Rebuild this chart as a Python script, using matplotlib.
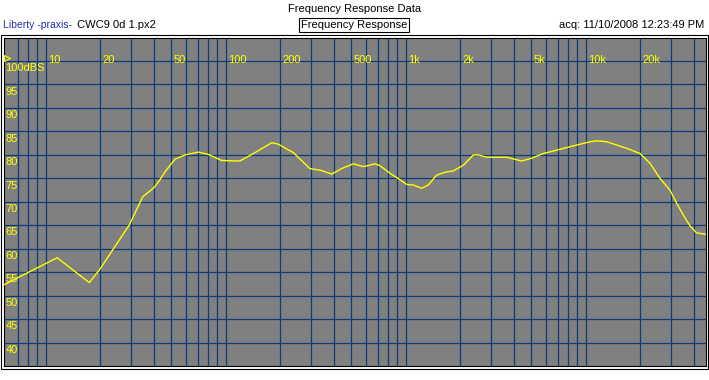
"""Frequency response plot (Liberty -praxis- style), CWC9 0d 1.px2."""
import matplotlib as mpl
mpl.use("Agg")
import matplotlib.pyplot as plt
import matplotlib.transforms as mtransforms
from matplotlib.patches import Rectangle

mpl.rcParams["font.family"] = ["Liberation Sans", "DejaVu Sans"]

freq = [5.84, 11.6, 17.5, 20, 29.2, 34.7, 40, 43.2, 46.1, 52.4, 59.6, 70.6, 80.3,
        95.3, 120, 146, 180.6, 196, 238, 294, 340, 389, 442, 513, 583, 677, 721,
        820, 932, 1016, 1100, 1230, 1339, 1490, 1657, 1843, 2094, 2381, 2535,
        2825, 3648, 4422, 5024, 5832, 7211, 8930, 10590, 11540, 13120, 16930,
        20090, 22820, 25920, 29460, 32100, 34920, 38050, 41410, 46400]
spl = [52.3, 58.1, 52.8, 55.6, 65.1, 71.1, 73.0, 74.7, 76.4, 79.1, 80.0, 80.6, 80.1,
       78.8, 78.7, 80.5, 82.6, 82.3, 80.5, 77.1, 76.7, 75.9, 77.1, 78.1, 77.5, 78.1, 77.7,
       76.1, 74.7, 73.7, 73.6, 72.9, 73.6, 75.7, 76.3, 76.6, 77.8, 80.0, 80.0,
       79.5, 79.5, 78.7, 79.3, 80.3, 81.2, 82.1, 82.8, 83.0, 82.8, 81.4,
       80.3, 78.2, 75.0, 72.5, 69.7, 67.2, 64.9, 63.4, 63.1]

grid_freqs = [7, 8, 9, 10, 20, 30, 40, 50, 60, 70, 80, 90, 100, 200, 300, 400, 500,
              600, 700, 800, 900, 1000, 2000, 3000, 4000, 5000, 6000, 7000, 8000,
              9000, 10000, 20000, 30000, 40000]
freq_ticks = [10, 20, 50, 100, 200, 500, 1000, 2000, 5000, 10000, 20000]
freq_tick_labels = ["10", "20", "50", "100", "200", "500", "1k", "2k", "5k", "10k", "20k"]
db_ticks = [100, 95, 90, 85, 80, 75, 70, 65, 60, 55, 50, 45, 40]
db_tick_labels = ["100dBS", "95", "90", "85", "80", "75", "70", "65", "60", "55", "50", "45", "40"]

GRAY, GRID, YELLOW = "#808080", "#0b3b7c", "#ffff00"
W, H = 709, 380

fig = plt.figure(figsize=(W / 100, H / 100), dpi=100)
ax = fig.add_axes([3.5 / W, 1 - 365.5 / H, 702 / W, 327.5 / H])
ax.set_facecolor(GRAY)
ax.set_xscale("log")
ax.set_xlim(5.84, 46400)
ax.set_ylim(35.15, 104.9)
ax.set_xticks([]); ax.set_xticks([], minor=True); ax.set_yticks([])
for s in ax.spines.values():
    s.set_linewidth(0.8); s.set_color("black")

for f in grid_freqs:
    ax.axvline(f, color=GRID, lw=0.9, zorder=1)
for d in db_ticks:
    ax.axhline(d, color=GRID, lw=0.9, zorder=1)

ax.plot(freq, spl, color=YELLOW, lw=1.0, zorder=3)

blend = mtransforms.blended_transform_factory(ax.transAxes, ax.transData)
for d, lab in zip(db_ticks, db_tick_labels):
    ax.text(0.0025, d - 0.45, lab, transform=blend, ha="left", va="top",
            color=YELLOW, fontsize=8, zorder=4)
for f, lab in zip(freq_ticks, freq_tick_labels):
    ax.text(f * 1.03, 99.5, lab, ha="left", va="baseline", color=YELLOW,
            fontsize=8, zorder=4)
# little cursor marker top-left
ax.plot([0.005], [100.6], marker=">", ms=4, mfc="none", mec=YELLOW,
        mew=0.8, transform=blend, zorder=4)

# outer frame
fig.add_artist(Rectangle((0.5 / W, 1 - 368.5 / H), 707.5 / W, 333.5 / H,
                         transform=fig.transFigure, fill=False, ec="black", lw=0.8))

fig.text(355 / W, 1 - 9 / H, "Frequency Response Data", ha="center", va="center", fontsize=8)
fig.text(3 / W, 1 - 25 / H, "Liberty -praxis-", ha="left", va="center", fontsize=7.5,
         color="#2030b0")
fig.text(77 / W, 1 - 25 / H, "CWC9 0d 1.px2", ha="left", va="center", fontsize=8)
fig.text(354 / W, 1 - 25 / H, "Frequency Response", ha="center", va="center", fontsize=8,
         bbox=dict(boxstyle="square,pad=0.2", fc="white", ec="black", lw=0.8))
fig.text(704 / W, 1 - 25 / H, "acq: 11/10/2008 12:23:49 PM", ha="right", va="center",
         fontsize=8)

fig.savefig("out.png", dpi=100)
